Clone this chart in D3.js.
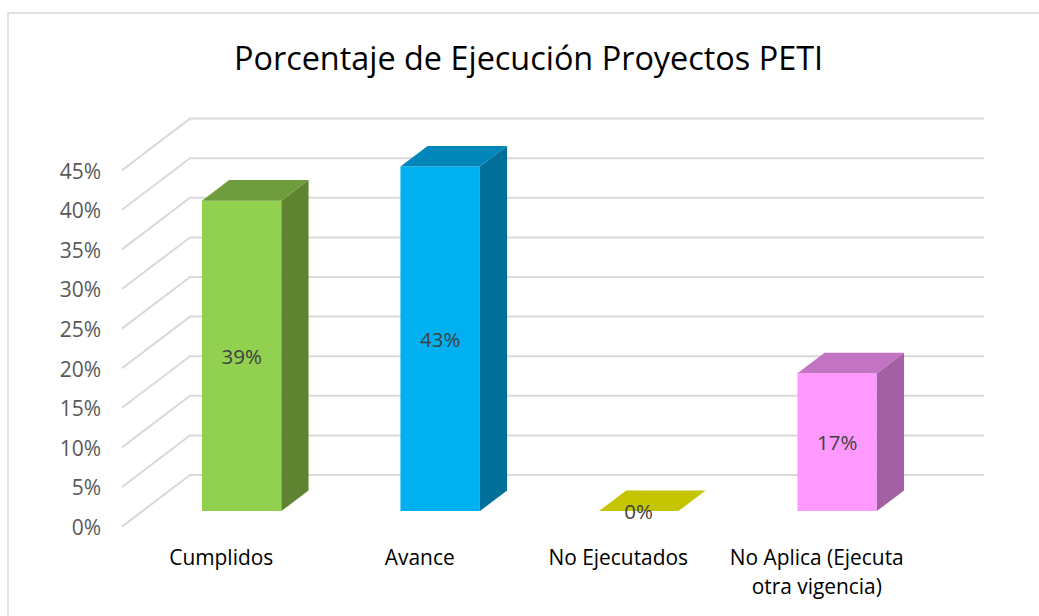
<!DOCTYPE html>
<html><head><meta charset="utf-8">
<script src="https://cdn.jsdelivr.net/npm/d3@7/dist/d3.min.js"></script>
<style>html,body{margin:0;background:#fff}svg{display:block}</style></head>
<body><svg id="c" width="1039" height="616"></svg>
<script>
const titleText = "Porcentaje de Ejecución Proyectos PETI";
const categories = ["Cumplidos","Avance","No Ejecutados","No Aplica (Ejecuta otra vigencia)"];
const categoryLines = [["Cumplidos"],["Avance"],["No Ejecutados"],["No Aplica (Ejecuta","otra vigencia)"]];
const values = [39.2,43.5,0,17.4];
const valueLabels = ["39%","43%","0%","17%"];
const frontColors = ["#92D050","#00B0F0","#C4C400","#FF99FF"];
const topColors = ["#6F9C3C","#0086B8","#C4C400","#C274C2"];
const sideColors = ["#5F8431","#006F99","#C4C400","#A361A3"];
const ticks = d3.range(0,50,5);

const font = "'Open Sans'";
const svg = d3.select("#c");
svg.append("rect").attr("x",8).attr("y",13).attr("width",1100).attr("height",700)
  .attr("fill","#fff").attr("stroke","#D9D9D9").attr("stroke-width",1.5);

const wallLeft=122, depthX=68, depthY=-51.6;
const x = d3.scaleBand().domain(categories).range([wallLeft,wallLeft+794]).paddingInner(0.6).paddingOuter(0.3);
const y = d3.scaleLinear().domain([0,45]).range([526.6,170.2]);
const P = (px,v,z)=>[px+z*depthX, y(v)+z*depthY];
const line = d3.line();

const grid = svg.append("g").attr("fill","none").attr("stroke","#D9D9D9").attr("stroke-width",2);
grid.selectAll("path").data(ticks).join("path")
  .attr("d",t=>line([P(wallLeft,t,0),P(wallLeft,t,1),P(wallLeft+794,t,1)]));

svg.append("g").selectAll("text").data(ticks).join("text")
  .attr("x",101).attr("y",t=>y(t)+8.4).attr("text-anchor","end")
  .attr("font-family",font).attr("font-size",21).attr("fill","#595959")
  .text(t=>t+"%");

const z0=0.3, z1=0.7;
const bars = svg.append("g").selectAll("g").data(categories).join("g");
bars.each(function(c,i){
  const g=d3.select(this), v=values[i], a=x(c), b=a+x.bandwidth();
  if(v>0) g.append("path").attr("fill",frontColors[i])
    .attr("d",line([P(a,0,z0),P(b,0,z0),P(b,v,z0),P(a,v,z0)])+"Z");
  if(v>0) g.append("path").attr("fill",sideColors[i])
    .attr("d",line([P(b,0,z0),P(b,0,z1),P(b,v,z1),P(b,v,z0)])+"Z");
  g.append("path").attr("fill",topColors[i])
    .attr("d",line([P(a,v,z0),P(b,v,z0),P(b,v,z1),P(a,v,z1)])+"Z");
});

svg.append("g").selectAll("text").data(categories).join("text")
  .attr("x",c=>x(c)+x.bandwidth()/2+20.4)
  .attr("y",(c,i)=>P(0,values[i]/2,z0)[1]+8)
  .attr("text-anchor","middle").attr("font-family",font).attr("font-size",20.5).attr("fill","#404040")
  .text((c,i)=>valueLabels[i]);

const cats = svg.append("g").selectAll("text").data(categories).join("text")
  .attr("text-anchor","middle").attr("font-family",font).attr("font-size",20.9).attr("fill","#000");
cats.each(function(c,i){
  d3.select(this).selectAll("tspan").data(categoryLines[i]).join("tspan")
    .attr("x",x(c)+x.bandwidth()/2).attr("y",(d,j)=>565+j*29).text(d=>d);
});

svg.append("text").attr("x",528.5).attr("y",69.5).attr("text-anchor","middle")
  .attr("font-family",font).attr("font-size",32.4).attr("fill","#000").text(titleText);
</script></body></html>
